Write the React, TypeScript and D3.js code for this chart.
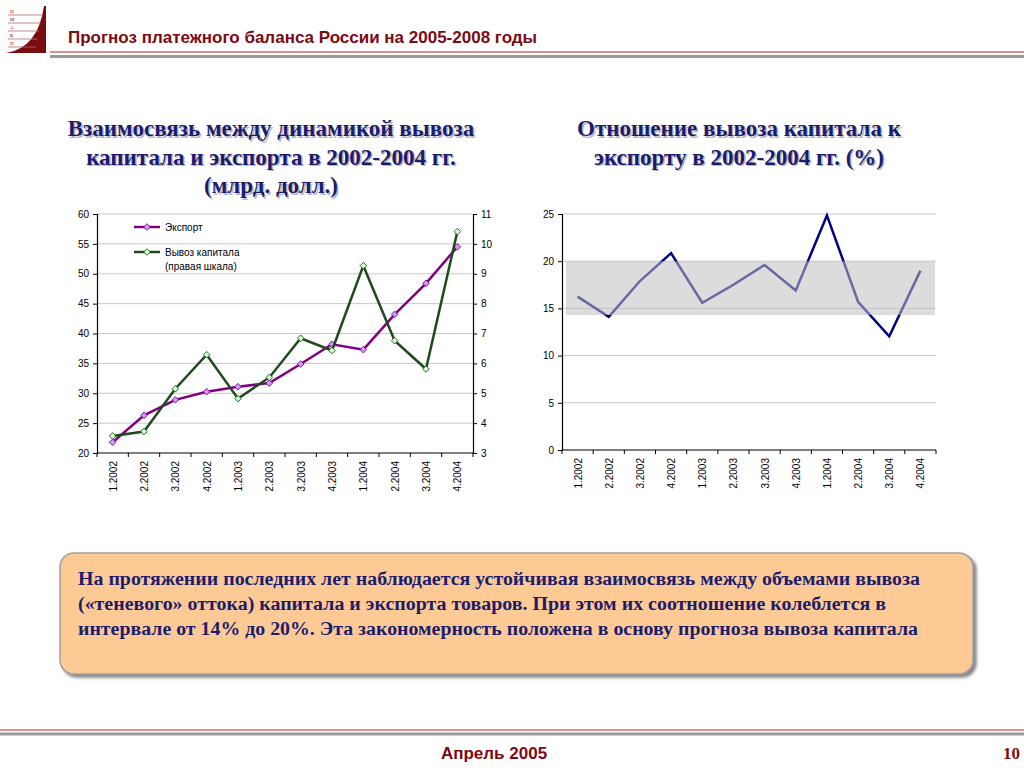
import * as d3 from "d3";
import { useEffect, useRef } from "react";

const quarters = [
  "1.2002", "2.2002", "3.2002", "4.2002",
  "1.2003", "2.2003", "3.2003", "4.2003",
  "1.2004", "2.2004", "3.2004", "4.2004",
];
const exportValues = [21.8, 26.3, 28.9, 30.25, 31.1, 31.7, 34.9, 38.2, 37.3, 43.2, 48.4, 54.5];
const capitalOutflow = [3.57, 3.72, 5.15, 6.29, 4.82, 5.53, 6.84, 6.43, 9.27, 6.76, 5.81, 10.41];
const outflowRatio = [16.25, 14.1, 17.9, 20.85, 15.6, 17.5, 19.6, 16.9, 24.85, 15.7, 12.05, 19.0];
const leftTicks = [20, 25, 30, 35, 40, 45, 50, 55, 60];
const rightTicks = [3, 4, 5, 6, 7, 8, 9, 10, 11];
const ratioTicks = [0, 5, 10, 15, 20, 25];
const corridor = [14.3, 20];

const headerTitle = "Прогноз платежного баланса России на 2005-2008 годы";
const leftTitle = ["Взаимосвязь между динамикой вывоза", "капитала и экспорта в 2002-2004 гг.", "(млрд. долл.)"];
const rightTitle = ["Отношение вывоза капитала к", "экспорту в 2002-2004 гг. (%)"];
const noteLines = [
  "На протяжении последних лет наблюдается устойчивая взаимосвязь между объемами вывоза",
  "(«теневого» оттока) капитала и экспорта товаров. При этом их соотношение колеблется в",
  "интервале от 14% до 20%. Эта закономерность положена в основу прогноза вывоза капитала",
];
const noteWidths = [842, 808, 840];

const DARK_RED = "#7b0a12";
const NAVY = "#1c1c6a";

function App() {
  const ref = useRef<SVGSVGElement | null>(null);

  useEffect(() => {
    document.body.style.margin = "0";
    const svg = d3.select(ref.current);
    svg.selectAll("*").remove();
    svg.append("rect").attr("width", 1024).attr("height", 768).attr("fill", "#fff");

    // header
    const logo = svg.append("g");
    logo.append("path")
      .attr("d", "M6,53 Q38,48 44,6 L46,6 L46,53 Z")
      .attr("fill", "#7a0c10");
    [12, 20, 28, 36, 44].forEach((y, i) => {
      logo.append("line").attr("x1", 8).attr("x2", 42 - i * 1.5).attr("y1", y + 3).attr("y2", y + 3)
        .attr("stroke", "#b07070").attr("stroke-width", 0.8);
      logo.append("text").attr("x", 10).attr("y", y + 1).attr("font-size", 5)
        .attr("fill", "#7a0c10").text("ЦМАКП"[i]);
    });
    svg.append("text").attr("x", 68).attr("y", 43)
      .attr("font-family", "Liberation Sans, Arial").attr("font-weight", "bold")
      .attr("font-size", 17).attr("fill", DARK_RED).text(headerTitle);
    svg.append("line").attr("x1", 50).attr("x2", 1024).attr("y1", 52).attr("y2", 52)
      .attr("stroke", "#b22222").attr("stroke-width", 1);
    svg.append("line").attr("x1", 50).attr("x2", 1024).attr("y1", 56.5).attr("y2", 56.5)
      .attr("stroke", "#999").attr("stroke-width", 3);

    // footer
    svg.append("line").attr("x1", 0).attr("x2", 1024).attr("y1", 730).attr("y2", 730)
      .attr("stroke", "#b22222").attr("stroke-width", 1);
    svg.append("line").attr("x1", 0).attr("x2", 1024).attr("y1", 734).attr("y2", 734)
      .attr("stroke", "#999").attr("stroke-width", 3);
    svg.append("text").attr("x", 494).attr("y", 759).attr("text-anchor", "middle")
      .attr("font-family", "Liberation Sans, Arial").attr("font-weight", "bold")
      .attr("font-size", 17).attr("fill", DARK_RED).text("Апрель 2005");
    svg.append("text").attr("x", 1020).attr("y", 759).attr("text-anchor", "end")
      .attr("font-family", "Liberation Serif, Times New Roman").attr("font-weight", "bold")
      .attr("font-size", 17).attr("fill", DARK_RED).text("10");

    // titles
    const drawTitle = (lines: string[], cx: number, y0: number) => {
      lines.forEach((t, i) => {
        svg.append("text").attr("x", cx + 1.5).attr("y", y0 + i * 28.5 + 1.5)
          .attr("text-anchor", "middle").attr("font-family", "Liberation Serif, Times New Roman")
          .attr("font-weight", "bold").attr("font-size", 23).attr("fill", "#b8b8c8").text(t);
        svg.append("text").attr("x", cx).attr("y", y0 + i * 28.5)
          .attr("text-anchor", "middle").attr("font-family", "Liberation Serif, Times New Roman")
          .attr("font-weight", "bold").attr("font-size", 23).attr("fill", NAVY).text(t);
      });
    };
    drawTitle(leftTitle, 271, 136);
    drawTitle(rightTitle, 739, 136);

    const font = "Liberation Sans, Arial";

    const bottomAxis = (x: d3.ScaleBand<string>, y0: number) => {
      const g = svg.append("g");
      const [a, b] = x.range();
      g.append("line").attr("x1", a).attr("x2", b).attr("y1", y0).attr("y2", y0)
        .attr("stroke", "#000").attr("stroke-width", 1.2);
      d3.range(quarters.length + 1).forEach((i) => {
        const xx = a + i * x.step();
        g.append("line").attr("x1", xx).attr("x2", xx).attr("y1", y0).attr("y2", y0 + 4)
          .attr("stroke", "#000");
      });
      quarters.forEach((q) => {
        const cx = (x(q) as number) + x.bandwidth() / 2;
        g.append("text").attr("transform", `translate(${cx + 4},${y0 + 8}) rotate(-90)`)
          .attr("text-anchor", "end").attr("font-family", font).attr("font-size", 10)
          .attr("fill", "#000").text(q);
      });
    };

    // left chart
    const xL = d3.scaleBand<string>().domain(quarters).range([97, 473]).padding(0);
    const yL = d3.scaleLinear().domain([20, 60]).range([453, 214]);
    const yR = d3.scaleLinear().domain([3, 11]).range([453, 214]);

    leftTicks.forEach((t) => {
      if (t > 20) {
        svg.append("line").attr("x1", 97).attr("x2", 473).attr("y1", yL(t)).attr("y2", yL(t))
          .attr("stroke", "#c8c8c8").attr("stroke-width", 1);
      }
    });
    const axL = svg.append("g").attr("transform", "translate(97,0)")
      .call(d3.axisLeft(yL).tickValues(leftTicks).tickSize(4).tickPadding(4));
    const axR = svg.append("g").attr("transform", "translate(473,0)")
      .call(d3.axisRight(yR).tickValues(rightTicks).tickSize(4).tickPadding(4));
    [axL, axR].forEach((ax) => {
      ax.select(".domain").attr("stroke-width", 1.2);
      ax.selectAll("text").attr("font-family", font).attr("font-size", 10).attr("fill", "#000");
    });
    bottomAxis(xL, 453);

    const cxL = (q: string) => (xL(q) as number) + xL.bandwidth() / 2;
    const diamond = d3.symbol().type(d3.symbolSquare).size(22);

    const drawSeries = (vals: number[], y: d3.ScaleLinear<number, number>, color: string, fill: string) => {
      const line = d3.line<number>().x((_, i) => cxL(quarters[i])).y((d) => y(d));
      svg.append("path").attr("d", line(vals) as string).attr("fill", "none")
        .attr("stroke", color).attr("stroke-width", 2.5);
      svg.append("g").selectAll("path").data(vals).join("path")
        .attr("d", diamond() as string)
        .attr("transform", (d, i) => `translate(${cxL(quarters[i])},${y(d)}) rotate(45)`)
        .attr("fill", fill).attr("stroke", color).attr("stroke-width", 0.8);
    };
    drawSeries(exportValues, yL, "#800080", "#cc99ff");
    drawSeries(capitalOutflow, yR, "#1e4a1e", "#ccffcc");

    // legend
    const legend = [
      { label: ["Экспорт"], color: "#800080", fill: "#cc99ff", y: 227 },
      { label: ["Вывоз капитала", "(правая шкала)"], color: "#1e4a1e", fill: "#ccffcc", y: 252 },
    ];
    legend.forEach((l) => {
      svg.append("line").attr("x1", 134).attr("x2", 160).attr("y1", l.y).attr("y2", l.y)
        .attr("stroke", l.color).attr("stroke-width", 2.5);
      svg.append("path").attr("d", diamond() as string)
        .attr("transform", `translate(147,${l.y}) rotate(45)`)
        .attr("fill", l.fill).attr("stroke", l.color).attr("stroke-width", 0.8);
      l.label.forEach((t, i) => {
        svg.append("text").attr("x", 165).attr("y", l.y + 4 + i * 14)
          .attr("font-family", font).attr("font-size", 10).attr("fill", "#000").text(t);
      });
    });

    // right chart
    const xQ = d3.scaleBand<string>().domain(quarters).range([562, 936]).padding(0);
    const yQ = d3.scaleLinear().domain([0, 25]).range([450, 214]);
    ratioTicks.forEach((t) => {
      if (t > 0) {
        svg.append("line").attr("x1", 562).attr("x2", 936).attr("y1", yQ(t)).attr("y2", yQ(t))
          .attr("stroke", "#c8c8c8").attr("stroke-width", 1);
      }
    });
    const axQ = svg.append("g").attr("transform", "translate(562,0)")
      .call(d3.axisLeft(yQ).tickValues(ratioTicks).tickSize(4).tickPadding(4));
    axQ.select(".domain").attr("stroke-width", 1.2);
    axQ.selectAll("text").attr("font-family", font).attr("font-size", 10).attr("fill", "#000");
    bottomAxis(xQ, 450);

    const cxQ = (q: string) => (xQ(q) as number) + xQ.bandwidth() / 2;
    const ratioLine = d3.line<number>().x((_, i) => cxQ(quarters[i])).y((d) => yQ(d));
    svg.append("path").attr("d", ratioLine(outflowRatio) as string).attr("fill", "none")
      .attr("stroke", "#000080").attr("stroke-width", 2.5);
    svg.append("rect").attr("x", 566).attr("y", yQ(corridor[1]))
      .attr("width", 935 - 566).attr("height", yQ(corridor[0]) - yQ(corridor[1]))
      .attr("fill", "#c0c0c0").attr("opacity", 0.55);

    // note box
    const defs = svg.append("defs");
    const f = defs.append("filter").attr("id", "sh").attr("x", "-5%").attr("y", "-10%")
      .attr("width", "115%").attr("height", "130%");
    f.append("feDropShadow").attr("dx", 3).attr("dy", 3).attr("stdDeviation", 1.5)
      .attr("flood-color", "#555").attr("flood-opacity", 0.7);
    svg.append("rect").attr("x", 60).attr("y", 553).attr("width", 913).attr("height", 121)
      .attr("rx", 14).attr("fill", "#fdca96").attr("stroke", "#a0a0a0").attr("stroke-width", 1.5)
      .attr("filter", "url(#sh)");
    noteLines.forEach((t, i) => {
      svg.append("text").attr("x", 78).attr("y", 585 + i * 25)
        .attr("font-family", "Liberation Serif, Times New Roman").attr("font-weight", "bold")
        .attr("font-size", 18).attr("fill", NAVY)
        .attr("textLength", noteWidths[i]).attr("lengthAdjust", "spacingAndGlyphs").text(t);
    });
  }, []);

  return <svg ref={ref} width={1024} height={768} style={{ display: "block" }}></svg>;
}

export default App;
